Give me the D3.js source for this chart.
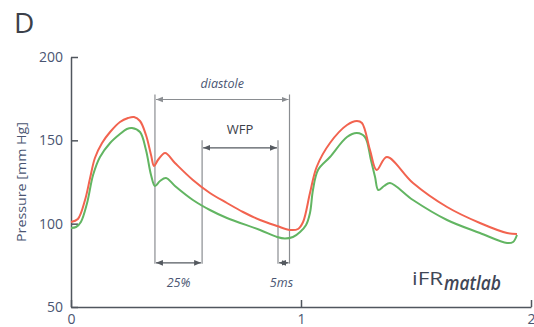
<!DOCTYPE html>
<html>
<head>
<meta charset="utf-8">
<script src="https://cdn.jsdelivr.net/npm/d3@7"></script>
<style>
  body { margin: 0; background: #fff; }
  svg { display: block; font-family: "Open Sans", sans-serif; }
</style>
</head>
<body>
<svg id="chart"></svg>
<script>
const width = 534
const height = 327

// aortic (red) pressure trace, seconds / mm Hg
const aorticT = [0, 0.03, 0.061, 0.083, 0.104, 0.135, 0.17, 0.213, 0.248, 0.274, 0.3, 0.326, 0.348, 0.361, 0.378, 0.409, 0.452, 0.53, 0.604, 0.678, 0.748, 0.822, 0.896, 0.952, 0.987, 1.009, 1.039, 1.068, 1.126, 1.2, 1.243, 1.265, 1.3, 1.329, 1.373, 1.487, 1.635, 1.778, 1.896, 1.939]
const aorticP = [101, 102.8, 114.2, 127.4, 139.4, 148.4, 155, 161, 163.4, 164, 161.6, 153.2, 141.2, 134.6, 138.2, 142.4, 136.4, 126.2, 118.4, 112.4, 107, 102.2, 98.6, 96.2, 96.8, 101, 118.4, 134, 148.4, 159.2, 161.6, 160.4, 144.2, 132.2, 140, 124.4, 110, 100.4, 94.4, 93.8]

// distal (green) pressure trace
const distalT = [0, 0.022, 0.043, 0.07, 0.096, 0.126, 0.17, 0.213, 0.243, 0.265, 0.3, 0.326, 0.348, 0.365, 0.387, 0.413, 0.452, 0.53, 0.604, 0.678, 0.822, 0.896, 0.93, 0.965, 0.996, 1.022, 1.039, 1.052, 1.074, 1.126, 1.2, 1.243, 1.278, 1.304, 1.322, 1.336, 1.361, 1.387, 1.487, 1.635, 1.778, 1.896, 1.922, 1.939]
const distalP = [97.4, 98, 101, 112.4, 129.2, 140, 148.4, 153.8, 156.8, 157.4, 155, 144.2, 129.2, 122.6, 125.6, 127.4, 122.6, 114.2, 108.2, 103.4, 96.2, 92, 91.1, 92, 95, 99.2, 106.4, 120.2, 132.2, 140, 152, 154.4, 152, 138.2, 128, 120.2, 122.6, 124.4, 114.2, 102.2, 94.4, 88.4, 89, 93.2]

// time marks (s)
const diastoleStart = 0.365
const diastoleEnd = 0.95
const wfpStart = 0.57
const wfpEnd = 0.9

const yTicks = [50, 100, 150, 200]
const xTicks = [0, 1, 2]

const svg = d3.select("#chart")
  .attr("width", width)
  .attr("height", height)

const x = d3.scaleLinear().domain([0, 2]).range([71, 531])
const y = d3.scaleLinear().domain([50, 200]).range([307, 57])

const axisColor = "#50565e"
const textColor = "#4a5572"

const defs = svg.append("defs")
const addMarker = (id, color) => {
  defs.append("marker")
    .attr("id", id)
    .attr("viewBox", "0 0 10 10")
    .attr("refX", 10).attr("refY", 5)
    .attr("markerWidth", 7).attr("markerHeight", 7)
    .attr("markerUnits", "userSpaceOnUse")
    .attr("orient", "auto-start-reverse")
    .append("path")
    .attr("d", "M0,1L10,5L0,9Z")
    .attr("fill", color)
}
addMarker("arrG", "#8a8d91")
addMarker("arrD", "#555a60")

// title
svg.append("text")
  .attr("x", 14).attr("y", 33)
  .attr("font-size", 28)
  .attr("font-weight", 500)
  .attr("fill", "#3b404a")
  .text("D")

// y axis
const yAxis = svg.append("g")
  .attr("transform", `translate(${x(0)},0)`)
  .call(d3.axisLeft(y).tickValues(yTicks).tickSize(-7).tickSizeOuter(0).tickPadding(8))
yAxis.select(".domain").attr("stroke", axisColor).attr("stroke-width", 1.5)
yAxis.selectAll(".tick line").attr("stroke", axisColor).attr("stroke-width", 1.5)
yAxis.selectAll(".tick text").attr("font-size", 14).attr("fill", textColor).attr("font-family", "Open Sans")

// x axis
const xAxis = svg.append("g")
  .attr("transform", `translate(0,${y(50)})`)
  .call(d3.axisBottom(x).tickValues(xTicks).tickFormat(d3.format("d")).tickSize(-7).tickSizeOuter(0).tickPadding(7))
xAxis.select(".domain").attr("stroke", axisColor).attr("stroke-width", 1.5)
xAxis.selectAll(".tick line").attr("stroke", axisColor).attr("stroke-width", 1.5)
xAxis.selectAll(".tick text").attr("font-size", 14).attr("fill", textColor).attr("font-family", "Open Sans")

svg.append("text")
  .attr("transform", `translate(26,${(y(50) + y(200)) / 2}) rotate(-90)`)
  .attr("text-anchor", "middle")
  .attr("font-size", 13)
  .attr("textLength", 120)
  .attr("lengthAdjust", "spacingAndGlyphs")
  .attr("fill", textColor)
  .text("Pressure [mm Hg]")

// annotation lines
const vline = (t, top, bottom) => svg.append("line")
  .attr("x1", x(t)).attr("x2", x(t))
  .attr("y1", y(top)).attr("y2", y(bottom))
  .attr("stroke", "#8a8d91").attr("stroke-width", 1.2)

vline(diastoleStart, 177.5, 76)
vline(diastoleEnd, 177.5, 76)
vline(wfpStart, 150, 76)
vline(wfpEnd, 150, 76)

const hArrow = (t0, t1, level, marker, color) => svg.append("line")
  .attr("x1", x(t0) + 1).attr("x2", x(t1) - 1)
  .attr("y1", y(level)).attr("y2", y(level))
  .attr("stroke", color).attr("stroke-width", 1.2)
  .attr("marker-start", `url(#${marker})`)
  .attr("marker-end", `url(#${marker})`)

hArrow(diastoleStart, diastoleEnd, 174.5, "arrG", "#8a8d91")
hArrow(wfpStart, wfpEnd, 145.5, "arrD", "#555a60")
hArrow(diastoleStart, wfpStart, 76.5, "arrD", "#555a60")
hArrow(wfpEnd, diastoleEnd, 76.5, "arrD", "#555a60")

const label = (t, level, txt, italic, color, size) => svg.append("text")
  .attr("x", x(t)).attr("y", y(level))
  .attr("text-anchor", "middle")
  .attr("dominant-baseline", "central")
  .attr("font-size", size)
  .attr("font-style", italic ? "italic" : "normal")
  .attr("fill", color)
  .text(txt)

label((diastoleStart + diastoleEnd) / 2, 184.2, "diastole", true, textColor, 12.5)
label((wfpStart + wfpEnd) / 2, 156.8, "WFP", false, "#3b404a", 13)
label((diastoleStart + wfpStart) / 2, 65, "25%", true, textColor, 12.5)
label((wfpEnd + diastoleEnd) / 2 - 0.01, 65, "5ms", true, textColor, 12.5)

// traces
const line = d3.line()
  .x(d => x(d[0]))
  .y(d => y(d[1]))
  .curve(d3.curveCatmullRom.alpha(0.5))

svg.append("path")
  .datum(distalT.map((t, i) => [t, distalP[i]]))
  .attr("d", line)
  .attr("fill", "none")
  .attr("stroke", "#62b562")
  .attr("stroke-width", 2)

svg.append("path")
  .datum(aorticT.map((t, i) => [t, aorticP[i]]))
  .attr("d", line)
  .attr("fill", "none")
  .attr("stroke", "#f2634f")
  .attr("stroke-width", 2)

// iFR matlab label
svg.append("text")
  .attr("x", 412).attr("y", 285)
  .attr("font-size", 19)
  .attr("textLength", 31)
  .attr("lengthAdjust", "spacingAndGlyphs")
  .attr("fill", "#3f4656")
  .text("iFR")
svg.append("text")
  .attr("x", 444).attr("y", 290)
  .attr("font-size", 19)
  .attr("font-style", "italic")
  .attr("font-weight", 600)
  .attr("textLength", 57)
  .attr("lengthAdjust", "spacingAndGlyphs")
  .attr("fill", "#3f4656")
  .text("matlab")
</script>
</body>
</html>
